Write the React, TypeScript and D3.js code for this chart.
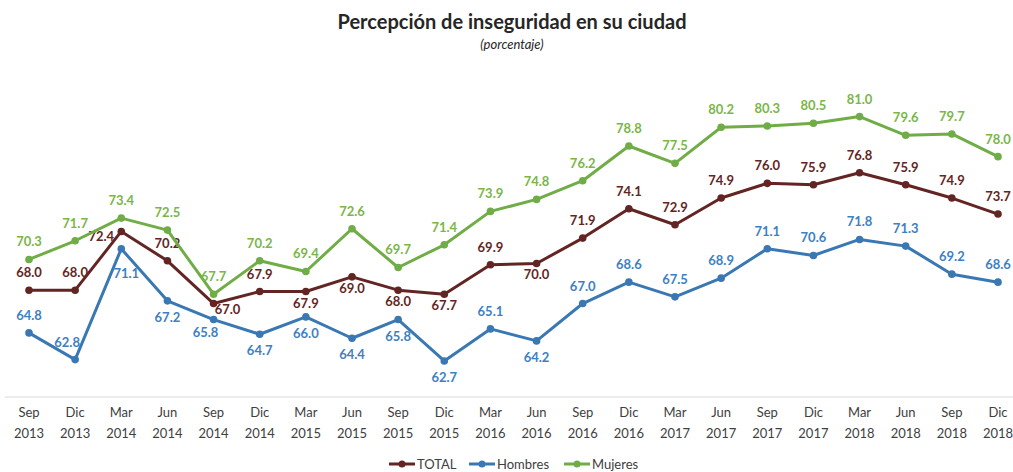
import React from "react";
import * as d3 from "d3";

const months = ["Sep","Dic","Mar","Jun","Sep","Dic","Mar","Jun","Sep","Dic","Mar","Jun","Sep","Dic","Mar","Jun","Sep","Dic","Mar","Jun","Sep","Dic"];
const years = ["2013","2013","2014","2014","2014","2014","2015","2015","2015","2015","2016","2016","2016","2016","2017","2017","2017","2017","2018","2018","2018","2018"];
const total = [68.0,68.0,72.4,70.2,67.0,67.9,67.9,69.0,68.0,67.7,69.9,70.0,71.9,74.1,72.9,74.9,76.0,75.9,76.8,75.9,74.9,73.7];
const hombres = [64.8,62.8,71.1,67.2,65.8,64.7,66.0,64.4,65.8,62.7,65.1,64.2,67.0,68.6,67.5,68.9,71.1,70.6,71.8,71.3,69.2,68.6];
const mujeres = [70.3,71.7,73.4,72.5,67.7,70.2,69.4,72.6,69.7,71.4,73.9,74.8,76.2,78.8,77.5,80.2,80.3,80.5,81.0,79.6,79.7,78.0];
// label placement: "a" above, "b" below, "l" left
const totalPos = ["a","a","l","a","b","a","b","b","b","b","a","b","a","a","a","a","a","a","a","a","a","a"];
const hombresPos = ["a","a","b","b","b","b","b","b","b","b","a","b","a","a","a","a","a","a","a","a","a","a"];
const mujeresPos = mujeres.map(() => "a");

const series = [
  { name: "TOTAL", values: total, pos: totalPos, color: "#632523", label: "#632523", below: 16 },
  { name: "Hombres", values: hombres, pos: hombresPos, color: "#3a78b4", label: "#3d80c2", below: 21 },
  { name: "Mujeres", values: mujeres, pos: mujeresPos, color: "#70ad47", label: "#7ab648", below: 20 },
];

// small per-label nudges [seriesIndex, pointIndex, dx, dy]
const nudges: [number, number, number, number][] = [
  [0, 4, 14, -6],
  [1, 1, -8, 0],
  [1, 2, 5, 8],
  [1, 4, -8, -4],
];

const W = 1013, H = 472;
const FONT = "Lato, 'Open Sans', sans-serif";

export default function App() {
  const idx = d3.range(months.length);
  const x = d3.scalePoint<number>().domain(idx).range([29, 998]);
  const y = d3.scaleLinear().domain([60, 81]).range([397, 116.6]);
  const line = d3.line<number>().x((_, i) => x(i) as number).y((v) => y(v));

  return (
    <svg width={W} height={H} style={{ position: "absolute", left: 0, top: 0, background: "#fff" }} fontFamily={FONT}>
      <text x={512} y={29} textAnchor="middle" fontSize={20} fontWeight="bold" fill="#262626">
        Percepción de inseguridad en su ciudad
      </text>
      <text x={512} y={49} textAnchor="middle" fontSize={13} fontStyle="italic" fill="#262626">
        (porcentaje)
      </text>
      <line x1={5} x2={1013} y1={397} y2={397} stroke="#d9d9d9" strokeWidth={1.2} />
      {idx.map((i) => (
        <g key={i}>
          <text x={x(i)} y={417} textAnchor="middle" fontSize={13} fill="#404040">{months[i]}</text>
          <text x={x(i)} y={438} textAnchor="middle" fontSize={13} fill="#404040">{years[i]}</text>
        </g>
      ))}
      {series.map((s, si) => (
        <g key={s.name}>
          <path d={line(s.values) || ""} fill="none" stroke={s.color} strokeWidth={3} strokeLinejoin="round" />
          {s.values.map((v, i) => (
            <circle key={i} cx={x(i)} cy={y(v)} r={3.8} fill={s.color} />
          ))}
          {s.values.map((v, i) => {
            const p = s.pos[i];
            const n = nudges.find((d) => d[0] === si && d[1] === i);
            const px = (x(i) as number) + (p === "l" ? -20 : 0) + (n ? n[2] : 0);
            const py = y(v) + (p === "a" ? -13 : p === "b" ? s.below : 10) + (n ? n[3] : 0);
            return (
              <text key={"t" + i} x={px} y={py} textAnchor="middle" fontSize={13} fontWeight="bold" fill={s.label}>
                {v.toFixed(1)}
              </text>
            );
          })}
        </g>
      ))}
      {[
        { s: series[0], x0: 389 },
        { s: series[1], x0: 469 },
        { s: series[2], x0: 564 },
      ].map(({ s, x0 }) => (
        <g key={"lg" + s.name}>
          <line x1={x0} x2={x0 + 26} y1={464} y2={464} stroke={s.color} strokeWidth={3} />
          <circle cx={x0 + 13} cy={464} r={3.5} fill={s.color} />
          <text x={x0 + 28} y={468.5} fontSize={13} fill="#404040">{s.name}</text>
        </g>
      ))}
    </svg>
  );
}
